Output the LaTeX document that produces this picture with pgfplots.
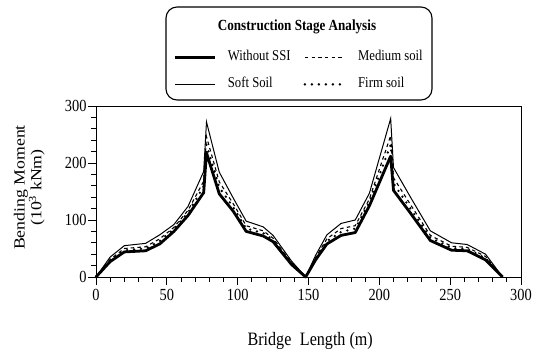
\documentclass[border=0pt]{standalone}
\usepackage{fontspec}
\setmainfont{Liberation Serif}[FakeStretch=0.85]
\newfontfamily\ylabfont{Liberation Serif}[FakeStretch=1.15]
\usepackage{pgfplots}
\usepackage{pgfplotstable}
\pgfplotsset{compat=1.18}

% Bending moment along the bridge (10^3 kNm)
\pgfplotstableread{
x    nossi  soft  medium  firm
0    0      0     0       0
10   27     35    31      29
20   44     55    50      47
35   46     59    53      50
45   58     74    67      63
55   80     92    87      84
65   108    124   117     113
76   148    185   168     159
78   218    272   246     232
87   146    184   167     157
97   115    138   128     122
106  80     98    90      85
118  72     88    81      77
125  62     73    68      65
138  22     28    25      24
148  0      0     0       0
155  30     38    34      32
163  58     74    67      63
173  73     94    85      79
183  78     100   90      85
193  125    147   137     132
208  212    278   248     232
210  152    192   174     164
222  112    140   127     120
236  64     81    73      69
251  47     60    54      51
262  46     57    52      49
275  30     40    36      33
287  0      0     0       0
}\bm

\begin{document}
\begin{tikzpicture}
\path[use as bounding box] (-96bp,-77bp) rectangle (447bp,277bp);
\begin{axis}[
  scale only axis,
  width=425bp, height=171bp,
  xmin=0, xmax=300, ymin=0, ymax=300,
  xtick={0,50,...,300}, ytick={0,100,200,300},
  minor x tick num=4, minor y tick num=4,
  xtick pos=bottom, ytick pos=left,
  tick align=outside,
  major tick length=8bp, minor tick length=5bp,
  tick style={black, line width=0.8bp},
  axis line style={line width=0.9bp},
  /pgf/number format/assume math mode=true,
  ticklabel style={font=\fontsize{17}{17}\selectfont},
  xticklabel style={yshift=-1bp},
  yticklabel style={xshift=2bp},
  xlabel={Bridge\hspace{0.45em}Length (m)},
  xlabel style={font=\fontsize{19}{19}\selectfont, at={(axis description cs:0.504,-0.372)}, anchor=center},
  ylabel={Bending Moment\\(10\textsuperscript{3} kNm)},
  ylabel style={font=\ylabfont\fontsize{15.5}{17}\selectfont, align=center,
    at={(axis description cs:-0.157,0.523)}, anchor=center},
  clip=false,
  legend columns=2,
  legend image code/.code={\draw[#1] (0bp,0bp) -- (40bp,0bp);},
  legend style={draw=none, fill=none, inner sep=0pt,
    at={(axis description cs:0.181,1.335)}, anchor=north west,
    font=\fontsize{15}{15}\selectfont,
    nodes={inner sep=2bp, text height=10bp, text depth=3bp},
    row sep=10bp, column sep=10bp,
    /tikz/every even column/.append style={column sep=11bp}},
  legend cell align=left,
]
\addplot[black, line width=2.8bp, line join=round] table[x=x, y=nossi] {\bm};
\addlegendentry{Without SSI}
\addplot[black, line width=1.1bp, dash pattern=on 3.5bp off 3.2bp] table[x=x, y=medium] {\bm};
\addlegendentry{Medium soil}
\addplot[black, line width=1bp] table[x=x, y=soft] {\bm};
\addlegendentry{Soft Soil}
\addplot[black, line width=2.6bp, line cap=round, dash pattern=on 0bp off 7bp] table[x=x, y=firm] {\bm};
\addlegendentry{Firm soil}
\end{axis}
% Legend frame and heading
\draw[line width=1.1bp, rounded corners=11bp] (70bp,177bp) rectangle (336bp,270bp);
\node[font=\bfseries\fontsize{15.5}{15.5}\selectfont] at (201bp,250bp) {Construction Stage Analysis};
\end{tikzpicture}
\end{document}
